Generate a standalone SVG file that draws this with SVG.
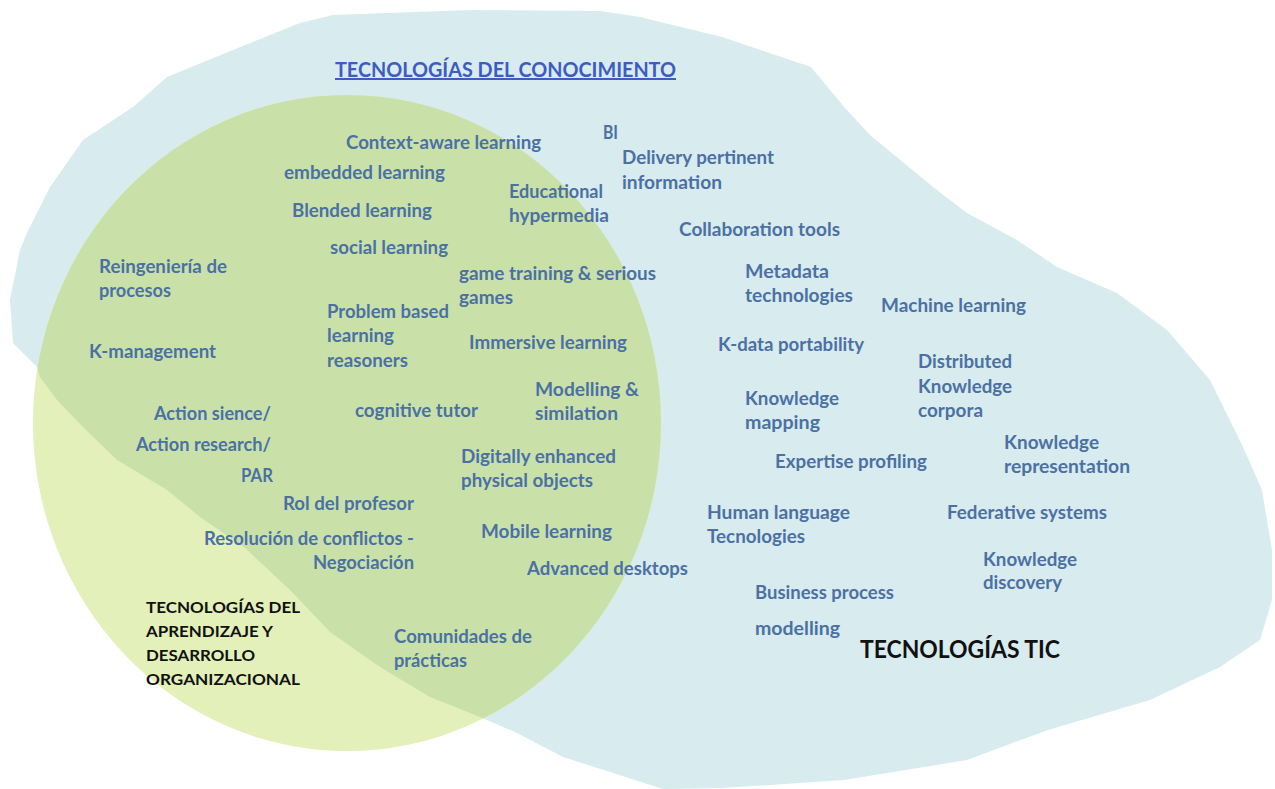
<svg xmlns="http://www.w3.org/2000/svg" width="1275" height="789" viewBox="0 0 1275 789">
<style>
.t{font-family:Lato,"Open Sans","Liberation Sans",sans-serif;font-weight:700;font-size:18px;fill:#4b71a4}
.k{font-family:Lato,"Open Sans","Liberation Sans",sans-serif;font-weight:700;font-size:16px;fill:#111}
.ttl{font-family:Lato,"Open Sans","Liberation Sans",sans-serif;font-weight:700;font-size:20px;fill:#3d5cc2;text-decoration:underline}
.big{font-family:Lato,"Open Sans","Liberation Sans",sans-serif;font-weight:700;font-size:24px;fill:#111}
</style>
<defs>
<path id="blob" d="M20,250 L27,233 L50,187 L83,140 L133,107 L167,77 L233,50 L300,23 L333,15 L470,10 L600,11 L640,17 L722,37 L811,67 L845,108 L870,135 L933,187 L967,213 L1017,240 L1057,267 L1117,293 L1167,330 L1210,380 L1243,447 L1262,490 L1272,550 L1272,600 L1260,640 L1220,667 L1150,700 L1048,730 L967,760 L844,780 L722,788 L663,789 L613,773 L563,757 L517,733 L480,717 L430,697 L380,667 L330,632 L290,590 L245,548 L200,517 L167,490 L117,460 L83,427 L57,400 L40,377 L37,367 L13,343 L10,300 Z"/>
<clipPath id="circ"><ellipse cx="347" cy="423" rx="314" ry="328"/></clipPath>
</defs>
<rect width="1275" height="789" fill="#ffffff"/>
<g id="area-tic">
<use href="#blob" fill="#d8ebee"/>
</g>
<g id="area-aprendizaje">
<ellipse cx="347" cy="423" rx="314" ry="328" fill="#e3f0b9"/>
</g>
<g id="area-overlap">
<use href="#blob" fill="#c9e1a8" clip-path="url(#circ)"/>
</g>

<g id="title"><text class="ttl" x="335" y="77" textLength="341" lengthAdjust="spacingAndGlyphs">TECNOLOGÍAS DEL CONOCIMIENTO</text></g>

<g id="n-context"><text class="t" x="346" y="149" textLength="195" lengthAdjust="spacingAndGlyphs">Context-aware learning</text></g>
<g id="n-bi"><text class="t" x="603" y="139" textLength="15" lengthAdjust="spacingAndGlyphs">BI</text></g>
<g id="n-delivery"><text class="t" x="622" y="164" textLength="152" lengthAdjust="spacingAndGlyphs">Delivery pertinent</text><text class="t" x="622" y="189" textLength="100" lengthAdjust="spacingAndGlyphs">information</text></g>
<g id="n-embedded"><text class="t" x="284" y="179" textLength="161" lengthAdjust="spacingAndGlyphs">embedded learning</text></g>
<g id="n-educational"><text class="t" x="509" y="198" textLength="94" lengthAdjust="spacingAndGlyphs">Educational</text><text class="t" x="509" y="222" textLength="100" lengthAdjust="spacingAndGlyphs">hypermedia</text></g>
<g id="n-blended"><text class="t" x="292" y="217" textLength="140" lengthAdjust="spacingAndGlyphs">Blended learning</text></g>
<g id="n-collab"><text class="t" x="679" y="236" textLength="161" lengthAdjust="spacingAndGlyphs">Collaboration tools</text></g>
<g id="n-social"><text class="t" x="330" y="254" textLength="118" lengthAdjust="spacingAndGlyphs">social learning</text></g>
<g id="n-reing"><text class="t" x="99" y="273" textLength="128" lengthAdjust="spacingAndGlyphs">Reingeniería de</text><text class="t" x="99" y="297" textLength="72" lengthAdjust="spacingAndGlyphs">procesos</text></g>
<g id="n-game"><text class="t" x="459" y="280" textLength="197" lengthAdjust="spacingAndGlyphs">game training &amp; serious</text><text class="t" x="459" y="304" textLength="54" lengthAdjust="spacingAndGlyphs">games</text></g>
<g id="n-metadata"><text class="t" x="745" y="278" textLength="84" lengthAdjust="spacingAndGlyphs">Metadata</text><text class="t" x="745" y="302" textLength="108" lengthAdjust="spacingAndGlyphs">technologies</text></g>
<g id="n-machine"><text class="t" x="881" y="312" textLength="145" lengthAdjust="spacingAndGlyphs">Machine learning</text></g>
<g id="n-problem"><text class="t" x="327" y="318" textLength="122" lengthAdjust="spacingAndGlyphs">Problem based</text><text class="t" x="327" y="342" textLength="67" lengthAdjust="spacingAndGlyphs">learning</text><text class="t" x="327" y="367" textLength="81" lengthAdjust="spacingAndGlyphs">reasoners</text></g>
<g id="n-kmanagement"><text class="t" x="89" y="358" textLength="127" lengthAdjust="spacingAndGlyphs">K-management</text></g>
<g id="n-immersive"><text class="t" x="469" y="349" textLength="158" lengthAdjust="spacingAndGlyphs">Immersive learning</text></g>
<g id="n-kdata"><text class="t" x="718" y="351" textLength="146" lengthAdjust="spacingAndGlyphs">K-data portability</text></g>
<g id="n-distributed"><text class="t" x="918" y="368" textLength="94" lengthAdjust="spacingAndGlyphs">Distributed</text><text class="t" x="918" y="393" textLength="94" lengthAdjust="spacingAndGlyphs">Knowledge</text><text class="t" x="918" y="417" textLength="65" lengthAdjust="spacingAndGlyphs">corpora</text></g>
<g id="n-modelling"><text class="t" x="535" y="396" textLength="104" lengthAdjust="spacingAndGlyphs">Modelling &amp;</text><text class="t" x="535" y="420" textLength="83" lengthAdjust="spacingAndGlyphs">similation</text></g>
<g id="n-kmapping"><text class="t" x="745" y="405" textLength="94" lengthAdjust="spacingAndGlyphs">Knowledge</text><text class="t" x="745" y="429" textLength="75" lengthAdjust="spacingAndGlyphs">mapping</text></g>
<g id="n-action"><text class="t" x="154" y="420" textLength="117" lengthAdjust="spacingAndGlyphs">Action sience/</text><text class="t" x="136" y="451" textLength="135" lengthAdjust="spacingAndGlyphs">Action research/</text><text class="t" x="241" y="482" textLength="32" lengthAdjust="spacingAndGlyphs">PAR</text></g>
<g id="n-cognitive"><text class="t" x="355" y="417" textLength="123" lengthAdjust="spacingAndGlyphs">cognitive tutor</text></g>
<g id="n-krepr"><text class="t" x="1004" y="449" textLength="95" lengthAdjust="spacingAndGlyphs">Knowledge</text><text class="t" x="1004" y="473" textLength="126" lengthAdjust="spacingAndGlyphs">representation</text></g>
<g id="n-digitally"><text class="t" x="461" y="463" textLength="155" lengthAdjust="spacingAndGlyphs">Digitally enhanced</text><text class="t" x="461" y="487" textLength="132" lengthAdjust="spacingAndGlyphs">physical objects</text></g>
<g id="n-expertise"><text class="t" x="775" y="468" textLength="152" lengthAdjust="spacingAndGlyphs">Expertise profiling</text></g>
<g id="n-rol"><text class="t" x="283" y="510" textLength="131" lengthAdjust="spacingAndGlyphs">Rol del profesor</text></g>
<g id="n-human"><text class="t" x="707" y="519" textLength="143" lengthAdjust="spacingAndGlyphs">Human language</text><text class="t" x="707" y="543" textLength="98" lengthAdjust="spacingAndGlyphs">Tecnologies</text></g>
<g id="n-federative"><text class="t" x="947" y="519" textLength="160" lengthAdjust="spacingAndGlyphs">Federative systems</text></g>
<g id="n-mobile"><text class="t" x="481" y="538" textLength="131" lengthAdjust="spacingAndGlyphs">Mobile learning</text></g>
<g id="n-resolucion"><text class="t" x="204" y="545" textLength="210" lengthAdjust="spacingAndGlyphs">Resolución de conflictos -</text><text class="t" x="313" y="569" textLength="101" lengthAdjust="spacingAndGlyphs">Negociación</text></g>
<g id="n-kdiscovery"><text class="t" x="983" y="566" textLength="94" lengthAdjust="spacingAndGlyphs">Knowledge</text><text class="t" x="983" y="589" textLength="79" lengthAdjust="spacingAndGlyphs">discovery</text></g>
<g id="n-advanced"><text class="t" x="527" y="575" textLength="161" lengthAdjust="spacingAndGlyphs">Advanced desktops</text></g>
<g id="n-business"><text class="t" x="755" y="599" textLength="139" lengthAdjust="spacingAndGlyphs">Business process</text><text class="t" x="755" y="635" textLength="85" lengthAdjust="spacingAndGlyphs">modelling</text></g>
<g id="n-comunidades"><text class="t" x="394" y="643" textLength="138" lengthAdjust="spacingAndGlyphs">Comunidades de</text><text class="t" x="394" y="667" textLength="73" lengthAdjust="spacingAndGlyphs">prácticas</text></g>
<g id="label-aprendizaje"><text class="k" x="146" y="613" textLength="154" lengthAdjust="spacingAndGlyphs">TECNOLOGÍAS DEL</text><text class="k" x="146" y="637" textLength="127" lengthAdjust="spacingAndGlyphs">APRENDIZAJE Y</text><text class="k" x="146" y="661" textLength="109" lengthAdjust="spacingAndGlyphs">DESARROLLO</text><text class="k" x="146" y="685" textLength="154" lengthAdjust="spacingAndGlyphs">ORGANIZACIONAL</text></g>
<g id="label-tic"><text class="big" x="860" y="658" textLength="200" lengthAdjust="spacingAndGlyphs">TECNOLOGÍAS TIC</text></g>
</svg>
